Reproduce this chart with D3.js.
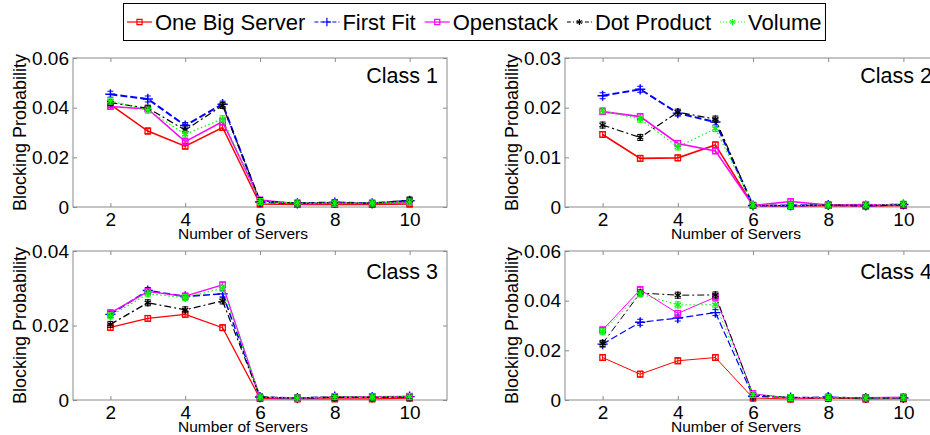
<!DOCTYPE html>
<html><head><meta charset="utf-8">
<script src="https://cdn.jsdelivr.net/npm/d3@7"></script>
<style>body{margin:0;background:#fff}svg{display:block}text{font-family:"Liberation Sans",Arial,sans-serif}</style>
</head><body><div id="chart"></div>
<script>
const servers = [2,3,4,5,6,7,8,9,10];
const seriesNames = ["One Big Server","First Fit","Openstack","Dot Product","Volume"];
const classNames = ["Class 1","Class 2","Class 3","Class 4"];
const yMaxes = [0.06,0.03,0.04,0.06];
const yTicks1 = [0,0.02,0.04,0.06];
const yTicks2 = [0,0.01,0.02,0.03];
const yTicks3 = [0,0.02,0.04];
const yTicks4 = [0,0.02,0.04,0.06];
const xTicks = [2,4,6,8,10];

const c1_obs = [0.0412,0.0306,0.0245,0.0320,0.0012,0.0010,0.0010,0.0010,0.0012];
const c1_ff  = [0.0454,0.0435,0.0328,0.0414,0.0020,0.0015,0.0018,0.0015,0.0025];
const c1_os  = [0.0405,0.0395,0.0263,0.0344,0.0028,0.0013,0.0015,0.0014,0.0018];
const c1_dp  = [0.0420,0.0398,0.0310,0.0409,0.0025,0.0015,0.0018,0.0015,0.0028];
const c1_vol = [0.0427,0.0390,0.0293,0.0355,0.0022,0.0016,0.0016,0.0016,0.0020];

const c2_obs = [0.0146,0.0098,0.0099,0.0125,0.0003,0.0002,0.0003,0.0002,0.0003];
const c2_ff  = [0.0224,0.0237,0.0189,0.0171,0.0003,0.0003,0.0004,0.0003,0.0005];
const c2_os  = [0.0192,0.0182,0.0128,0.0113,0.0003,0.0011,0.0004,0.0005,0.0003];
const c2_dp  = [0.0165,0.0140,0.0191,0.0177,0.0003,0.0003,0.0004,0.0003,0.0004];
const c2_vol = [0.0194,0.0177,0.0121,0.0158,0.0004,0.0003,0.0004,0.0004,0.0006];

const c3_obs = [0.0195,0.0219,0.0230,0.0194,0.0004,0.0003,0.0003,0.0003,0.0005];
const c3_ff  = [0.0230,0.0294,0.0278,0.0285,0.0008,0.0005,0.0009,0.0008,0.0009];
const c3_os  = [0.0234,0.0291,0.0279,0.0309,0.0007,0.0005,0.0008,0.0009,0.0010];
const c3_dp  = [0.0203,0.0261,0.0242,0.0266,0.0008,0.0005,0.0007,0.0007,0.0008];
const c3_vol = [0.0226,0.0285,0.0275,0.0300,0.0008,0.0005,0.0009,0.0008,0.0009];

const c4_obs = [0.0171,0.0104,0.0158,0.0171,0.0008,0.0004,0.0008,0.0004,0.0005];
const c4_ff  = [0.0225,0.0313,0.0330,0.0352,0.0015,0.0010,0.0012,0.0008,0.0008];
const c4_os  = [0.0282,0.0444,0.0349,0.0414,0.0025,0.0008,0.0010,0.0010,0.0012];
const c4_dp  = [0.0228,0.0431,0.0422,0.0423,0.0020,0.0010,0.0008,0.0008,0.0008];
const c4_vol = [0.0275,0.0427,0.0383,0.0384,0.0022,0.0010,0.0010,0.0008,0.0009];

const panelData = [
  [c1_obs,c1_ff,c1_os,c1_dp,c1_vol],
  [c2_obs,c2_ff,c2_os,c2_dp,c2_vol],
  [c3_obs,c3_ff,c3_os,c3_dp,c3_vol],
  [c4_obs,c4_ff,c4_os,c4_dp,c4_vol]
];
const panelTicks = [yTicks1,yTicks2,yTicks3,yTicks4];

// styles
const colors = ["#ff0000","#0000ff","#ff00ff","#000000","#00ff00"];
const dashes = [null,"7,3","", "7,3,2,3","1.5,2.5"];
const symbols = [d3.symbolSquare, d3.symbolPlus, d3.symbolSquare, d3.symbolAsterisk, d3.symbolAsterisk];
const lineWidths = [[1.5,2,1.5,1.2,1.2],[1.6,2,1.6,1.2,1.2],[1.3,1.6,1.3,1.2,1.2],[1,1.2,1,1,1]];

const W = 930, H = 435;
const svg = d3.select("#chart").append("svg").attr("width",W).attr("height",H);

const panels = [
  {l:73,r:447,t:58,b:207},
  {l:565,r:941,t:58,b:207},
  {l:73,r:447,t:251,b:400},
  {l:565,r:941,t:251,b:400}
];
const axisColor = "#8a8a8a";
const fmt = d => d === 0 ? "0" : d3.format(".2f")(d);

panels.forEach((p,i) => {
  const g = svg.append("g");
  const x = d3.scaleLinear().domain([1,11]).range([p.l,p.r]);
  const y = d3.scaleLinear().domain([0,yMaxes[i]]).range([p.b,p.t]);
  // box
  g.append("rect").attr("x",p.l).attr("y",p.t).attr("width",p.r-p.l).attr("height",p.b-p.t)
    .attr("fill","none").attr("stroke",axisColor).attr("stroke-width",1);
  // axes
  const xb = d3.axisBottom(x).tickValues(xTicks).tickSize(-4).tickPadding(6);
  const gx = g.append("g").attr("transform",`translate(0,${p.b})`).call(xb);
  gx.select(".domain").remove();
  gx.selectAll("line").attr("stroke",axisColor);
  gx.selectAll("text").attr("font-size",19).attr("fill","#000").attr("dy","0.71em").attr("y",6);
  const xt = d3.axisTop(x).tickValues(xTicks).tickSize(-4).tickFormat("");
  const gxt = g.append("g").attr("transform",`translate(0,${p.t})`).call(xt);
  gxt.select(".domain").remove(); gxt.selectAll("line").attr("stroke",axisColor);
  const yl = d3.axisLeft(y).tickValues(panelTicks[i]).tickSize(-4).tickPadding(4).tickFormat(fmt);
  const gy = g.append("g").attr("transform",`translate(${p.l},0)`).call(yl);
  gy.select(".domain").remove();
  gy.selectAll("line").attr("stroke",axisColor);
  gy.selectAll("text").attr("font-size",19).attr("fill","#000").attr("x",-4);
  const yr = d3.axisRight(y).tickValues(panelTicks[i]).tickSize(-4).tickFormat("");
  const gyr = g.append("g").attr("transform",`translate(${p.r},0)`).call(yr);
  gyr.select(".domain").remove(); gyr.selectAll("line").attr("stroke",axisColor);

  // labels
  g.append("text").attr("x",(p.l+p.r)/2-17).attr("y",p.b+32).attr("text-anchor","middle")
    .attr("font-size",15.5).text("Number of Servers");
  g.append("text").attr("transform",`translate(${p.l-47},${(p.t+p.b)/2}) rotate(-90)`)
    .attr("text-anchor","middle").attr("font-size",18).text("Blocking Probability");
  g.append("text").attr("x",p.r-9).attr("y",p.t + (i<2?25:28)).attr("text-anchor","end")
    .attr("font-size",21.5).text(classNames[i]);

  // series
  panelData[i].forEach((vals,s) => {
    const pts = servers.map((sv,k)=>[sv,vals[k]]);
    const line = d3.line().x(d=>x(d[0])).y(d=>y(d[1]));
    g.append("path").attr("d",line(pts)).attr("fill","none").attr("stroke",colors[s])
      .attr("stroke-width",lineWidths[i][s]).attr("stroke-dasharray",dashes[s]||null);
    const sym = d3.symbol().type(symbols[s]).size(s===0||s===2?30:36);
    const mk = g.append("g").selectAll("g").data(pts).join("g")
      .attr("transform",d=>`translate(${x(d[0])},${y(d[1])})`);
    mk.append("path").attr("d",sym()).attr("fill",s===0||s===2?"none":colors[s])
      .attr("stroke",colors[s]).attr("stroke-width",s===0||s===2?1.3:1.4);
    // small error bar caps
    mk.append("path").attr("d","M-3,-3H3M-3,3H3M0,-3V3").attr("stroke",colors[s]).attr("stroke-width",1).attr("fill","none");
  });
});

// legend
const leg = svg.append("g");
const legBox = leg.append("rect").attr("x",123.5).attr("y",3.5).attr("height",37).attr("fill","#fff")
  .attr("stroke","#000").attr("stroke-width",1);
let cx = 127;
seriesNames.forEach((n,s) => {
  const ly = 22;
  leg.append("line").attr("x1",cx).attr("x2",cx+25).attr("y1",ly).attr("y2",ly).attr("stroke",colors[s])
    .attr("stroke-width",1.2).attr("stroke-dasharray",dashes[s]? (s===1?"4,2":s===3?"4,2,1,2":"1,2") : null);
  const sym = d3.symbol().type(symbols[s]).size(26);
  leg.append("path").attr("transform",`translate(${cx+12.5},${ly})`).attr("d",sym())
    .attr("fill",s===0||s===2?"none":colors[s]).attr("stroke",colors[s]).attr("stroke-width",1.2);
  const t = leg.append("text").attr("x",cx+28).attr("y",30).attr("font-size",22).text(n);
  const w = t.node().getComputedTextLength();
  cx = cx + 28 + w + 9;
});
legBox.attr("width", cx - 9 + 4 - 123.5);
</script>
</body></html>
